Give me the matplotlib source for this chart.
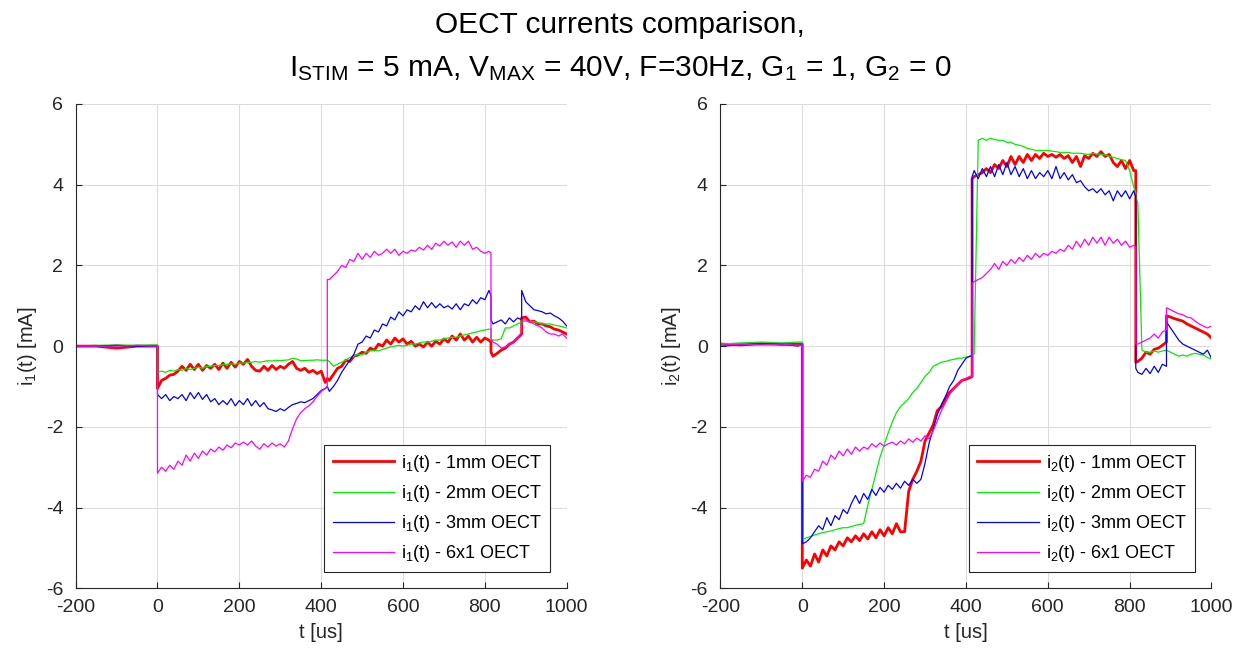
import matplotlib
matplotlib.use('Agg')
import matplotlib.pyplot as plt

plt.rcParams['font.family'] = ['Liberation Sans', 'DejaVu Sans']
plt.rcParams['mathtext.default'] = 'regular'
plt.rcParams['axes.unicode_minus'] = False

# time base [us]: pre-trigger, then 10 us samples with repeated instants at the switching edges
t_pre = [-200, -150, -100, -50, -10, 0]
t_seg2 = list(range(0, 420, 10)) + [415]
t_seg3 = [415] + list(range(420, 820, 10)) + [815]
t_seg4 = [815] + list(range(820, 900, 10))
t_seg5 = [890] + list(range(900, 1010, 10))
t = t_pre + t_seg2 + t_seg3 + t_seg4 + t_seg5

labels = ['1mm OECT', '2mm OECT', '3mm OECT', '6x1 OECT']
colors = ['#ff0000', '#00ee00', '#0000ff', '#ff00ff']
widths = [2.0, 0.9, 0.9, 0.9]

# ---- i1(t) [mA]
i1_1mm = [0.0, 0.0, -0.05, 0.0, 0.0, 0.0,
          -1.05, -0.85, -0.8, -0.72, -0.7, -0.62, -0.5, -0.6, -0.45, -0.58,
          -0.45, -0.6, -0.48, -0.55, -0.45, -0.58, -0.42, -0.55, -0.4, -0.52,
          -0.38, -0.45, -0.33, -0.5, -0.6, -0.62, -0.5, -0.6, -0.48, -0.58,
          -0.5, -0.55, -0.45, -0.38, -0.55, -0.6, -0.55, -0.65, -0.6, -0.68,
          -0.62, -0.9, -0.8,
          -0.8,
          -0.85, -0.7, -0.55, -0.5, -0.35, -0.38, -0.25, -0.22, -0.15, -0.18,
          -0.05, -0.1, 0.05, 0.0, 0.15, 0.05, 0.2, 0.1, 0.18, 0.05,
          0.12, 0.0, 0.05, -0.02, 0.1, 0.0, 0.12, 0.05, 0.18, 0.1,
          0.25, 0.15, 0.3, 0.15, 0.25, 0.1, 0.22, 0.1, 0.2, 0.15,
          0.1,
          -0.15, -0.25, -0.18, -0.1, -0.05, 0.05, 0.1, 0.2, 0.3,
          0.7, 0.72, 0.6, 0.62, 0.55, 0.55, 0.5, 0.48, 0.42, 0.4, 0.35, 0.3]

i1_2mm = [0.0, 0.02, 0.03, 0.02, 0.03, 0.03,
          -0.65, -0.62, -0.65, -0.6, -0.62, -0.58, -0.6, -0.55, -0.58, -0.55,
          -0.52, -0.55, -0.5, -0.5, -0.48, -0.48, -0.46, -0.45, -0.44, -0.45,
          -0.42, -0.42, -0.4, -0.4, -0.38, -0.4, -0.38, -0.36, -0.37, -0.35,
          -0.36, -0.35, -0.34, -0.3, -0.32, -0.36, -0.36, -0.35, -0.35, -0.34,
          -0.35, -0.35, -0.35,
          -0.35,
          -0.38, -0.5, -0.45, -0.4, -0.35, -0.28, -0.25, -0.2, -0.22, -0.15,
          -0.12, -0.1, -0.12, -0.08, -0.05, -0.02, 0.0, 0.02, 0.0, 0.02,
          0.05, 0.05, 0.08, 0.1, 0.1, 0.12, 0.15, 0.15, 0.18, 0.2,
          0.22, 0.22, 0.25, 0.28, 0.3, 0.33, 0.35, 0.38, 0.4, 0.42,
          0.43,
          0.15, 0.15, 0.15, 0.18, 0.45, 0.45, 0.5, 0.55, 0.6,
          0.6, 0.62, 0.6, 0.6, 0.58, 0.55, 0.55, 0.55, 0.52, 0.5, 0.48, 0.45]

i1_3mm = [0.0, 0.0, 0.02, 0.0, 0.0, 0.0,
          -1.2, -1.3, -1.2, -1.35, -1.25, -1.3, -1.2, -1.35, -1.15, -1.3,
          -1.15, -1.32, -1.2, -1.38, -1.3, -1.45, -1.35, -1.45, -1.3, -1.48,
          -1.35, -1.45, -1.3, -1.48, -1.35, -1.5, -1.4, -1.55, -1.58, -1.62,
          -1.55, -1.6, -1.52, -1.45, -1.42, -1.38, -1.4, -1.35, -1.3, -1.2,
          -1.1, -1.05, -1.0,
          -1.0,
          -1.12, -1.0, -0.85, -0.65, -0.5, -0.35, -0.2, 0.05, 0.1, 0.25,
          0.2, 0.4, 0.35, 0.55, 0.5, 0.72, 0.65, 0.85, 0.75, 0.9,
          0.85, 1.0, 0.9, 1.1, 0.95, 1.08, 0.95, 1.05, 0.95, 1.0,
          0.92, 1.05, 0.9, 1.05, 1.0, 1.15, 1.05, 1.2, 1.15, 1.38,
          1.25,
          0.65, 0.55, 0.6, 0.65, 0.55, 0.7, 0.6, 0.7, 0.65,
          1.38, 1.1, 1.0, 0.9, 0.88, 0.85, 0.8, 0.82, 0.75, 0.7, 0.62, 0.5]

i1_6x1 = [0.0, 0.0, 0.0, 0.02, 0.0, 0.0,
          -3.15, -3.0, -3.1, -2.95, -3.05, -2.85, -2.95, -2.7, -2.85, -2.65,
          -2.78, -2.6, -2.7, -2.55, -2.62, -2.5, -2.58, -2.45, -2.52, -2.4,
          -2.45, -2.38, -2.45, -2.35, -2.48, -2.55, -2.42, -2.5, -2.4, -2.48,
          -2.42, -2.5, -2.35, -2.05, -1.8, -1.65, -1.55, -1.48, -1.38, -1.25,
          -1.12, -1.05, -1.0,
          1.65,
          1.65, 1.75, 1.85, 2.0, 1.95, 2.15, 2.1, 2.3, 2.15, 2.3,
          2.2, 2.35, 2.25, 2.3, 2.4, 2.3, 2.4, 2.25, 2.35, 2.3,
          2.38, 2.35, 2.45, 2.38, 2.5, 2.4, 2.55, 2.48, 2.6, 2.5,
          2.58, 2.45, 2.6, 2.5, 2.6, 2.4, 2.45, 2.35, 2.3, 2.35,
          2.3,
          0.2, 0.1, 0.05, -0.05, -0.02, 0.05, 0.1, 0.2, 0.35,
          0.65, 0.65, 0.6, 0.55, 0.5, 0.45, 0.35, 0.3, 0.3, 0.25, 0.3, 0.2]

# ---- i2(t) [mA]
i2_1mm = [0.05, 0.03, 0.06, 0.04, 0.05, 0.05,
          -5.5, -5.3, -5.45, -5.15, -5.35, -5.05, -5.2, -4.95, -5.05, -4.85,
          -4.95, -4.75, -4.85, -4.7, -4.82, -4.65, -4.78, -4.6, -4.75, -4.55,
          -4.7, -4.5, -4.65, -4.4, -4.6, -4.6, -3.6, -3.3, -3.1, -2.85,
          -2.35, -2.15, -1.95, -1.6, -1.5, -1.3, -1.15, -1.05, -0.95, -0.85,
          -0.82, -0.78, -0.75,
          4.15,
          4.2, 4.25, 4.3, 4.4, 4.3, 4.5, 4.4, 4.6, 4.45, 4.7,
          4.5, 4.7, 4.55, 4.75, 4.6, 4.75, 4.65, 4.78, 4.7, 4.75,
          4.68, 4.75, 4.65, 4.72, 4.55, 4.7, 4.45, 4.72, 4.65, 4.78,
          4.7, 4.82, 4.7, 4.75, 4.55, 4.45, 4.6, 4.4, 4.6, 4.35,
          4.35,
          -0.4, -0.38, -0.3, -0.15, -0.2, -0.08, -0.05, 0.02, 0.1,
          0.75, 0.72, 0.68, 0.65, 0.62, 0.55, 0.5, 0.45, 0.4, 0.35, 0.3, 0.2]

i2_2mm = [0.05, 0.08, 0.1, 0.08, 0.1, 0.1,
          -4.8, -4.75, -4.72, -4.68, -4.65, -4.62, -4.6, -4.58, -4.55, -4.52,
          -4.5, -4.5, -4.47, -4.44, -4.42, -4.4, -3.95, -3.55, -3.15, -2.75,
          -2.45, -2.15, -1.88, -1.65, -1.5, -1.4, -1.3, -1.15, -1.05, -0.9,
          -0.75, -0.65, -0.5, -0.45, -0.4, -0.38, -0.35, -0.33, -0.3, -0.3,
          -0.27, -0.25, -0.22,
          -0.22,
          -0.2, 5.1, 5.15, 5.1, 5.15, 5.12, 5.1, 5.1, 5.05, 5.05,
          5.0, 4.98, 4.95, 4.9, 4.88, 4.85, 4.85, 4.85, 4.85, 4.83,
          4.82, 4.8, 4.8, 4.8, 4.78, 4.78, 4.78, 4.76, 4.75, 4.78,
          4.76, 4.75, 4.74, 4.7, 4.68, 4.65, 4.62, 4.6, 4.35, 3.95,
          3.8,
          3.7, 3.55, -0.1, -0.15, -0.15, -0.12, -0.15, -0.12, -0.1,
          -0.1, -0.15, -0.2, -0.25, -0.22, -0.25, -0.2, -0.18, -0.2, -0.22, -0.28, -0.32]

i2_3mm = [0.0, 0.03, 0.05, 0.05, 0.0, 0.05,
          -4.9, -4.85, -4.75, -4.6, -4.45, -4.55, -4.25, -4.45, -4.2, -4.3,
          -4.05, -4.15, -3.9, -3.7, -3.9, -3.65, -3.8, -3.55, -3.7, -3.5,
          -3.62, -3.45, -3.55, -3.4, -3.52, -3.35, -3.45, -3.3, -3.4, -3.3,
          -2.9, -2.4, -2.05, -1.7, -1.45, -1.25, -1.0, -0.85, -0.6, -0.45,
          -0.3, -0.25, -0.25,
          4.2,
          4.35, 4.15, 4.4, 4.2, 4.45, 4.2, 4.5, 4.25, 4.55, 4.25,
          4.45, 4.2, 4.4, 4.15, 4.35, 4.15, 4.3, 4.2, 4.35, 4.15,
          4.45, 4.15, 4.3, 4.12, 4.25, 4.05, 4.1, 3.95, 3.85, 3.9,
          3.8, 3.9, 3.75, 3.85, 3.6, 3.85, 3.7, 3.85, 3.65, 3.85,
          3.7,
          -0.55, -0.65, -0.7, -0.55, -0.68, -0.5, -0.65, -0.45, -0.5,
          0.6, 0.45, 0.3, 0.15, 0.05, 0.0, -0.05, -0.1, -0.15, -0.2, -0.1, -0.3]

i2_6x1 = [0.02, 0.05, 0.03, 0.05, 0.02, 0.03,
          -3.35, -3.2, -3.25, -3.05, -3.1, -2.85, -2.95, -2.7, -2.8, -2.6,
          -2.72, -2.55, -2.68, -2.5, -2.6, -2.5, -2.55, -2.42, -2.5, -2.4,
          -2.48, -2.42, -2.38, -2.45, -2.35, -2.42, -2.3, -2.38, -2.28, -2.35,
          -2.22, -2.3, -2.1, -1.85, -1.6, -1.4, -1.2, -1.05, -0.95, -0.85,
          -0.8, -0.75, -0.75,
          1.55,
          1.6, 1.65, 1.7, 1.8, 1.9, 2.05, 1.9, 2.1, 2.0, 2.15,
          2.05, 2.2, 2.1, 2.25, 2.15, 2.3, 2.2, 2.3, 2.25, 2.35,
          2.3, 2.4, 2.35, 2.5, 2.4, 2.6, 2.45, 2.65, 2.5, 2.7,
          2.55, 2.7, 2.5, 2.7, 2.55, 2.65, 2.5, 2.6, 2.45, 2.5,
          2.45,
          0.05, 0.05, 0.1, 0.15, 0.2, 0.3, 0.2, 0.35, 0.4,
          0.95, 0.9, 0.85, 0.8, 0.78, 0.72, 0.7, 0.62, 0.55, 0.5, 0.45, 0.5]

axis_col = '#262626'
fig = plt.figure(figsize=(12.4, 6.5), dpi=100)
ax1 = fig.add_axes([0.061, 0.095, 0.396, 0.745])
ax2 = fig.add_axes([0.581, 0.095, 0.396, 0.745])

panels = [(ax1, [i1_1mm, i1_2mm, i1_3mm, i1_6x1], '1'),
          (ax2, [i2_1mm, i2_2mm, i2_3mm, i2_6x1], '2')]

for ax, series, k in panels:
    for y, lab, c, lw in zip(series, labels, colors, widths):
        ax.plot(t, y, color=c, lw=lw, label='i$_%s$(t) - %s' % (k, lab))
    ax.set_xlim(-200, 1000)
    ax.set_ylim(-6, 6)
    ax.set_xticks(range(-200, 1001, 200))
    ax.set_yticks(range(-6, 7, 2))
    ax.grid(True, color='#dcdcdc', lw=0.8)
    ax.set_axisbelow(True)
    for s in ['top', 'right']:
        ax.spines[s].set_visible(False)
    for s in ['left', 'bottom']:
        ax.spines[s].set_color(axis_col)
        ax.spines[s].set_linewidth(0.8)
    ax.tick_params(direction='in', length=4, colors=axis_col, labelsize=14)
    ax.tick_params(axis='x', pad=8)
    ax.tick_params(axis='y', pad=9)
    ax.set_xlabel('t [us]', fontsize=14.5, color=axis_col, labelpad=5)
    ax.set_ylabel('i$_%s$(t) [mA]' % k, fontsize=14.5, color=axis_col, labelpad=5)
    leg = ax.legend(loc='lower right', fontsize=13, fancybox=False,
                    framealpha=1, edgecolor=axis_col, handlelength=3.4,
                    handletextpad=0.4, borderaxespad=0.9, labelspacing=0.5,
                    borderpad=0.45)
    leg.get_frame().set_linewidth(0.8)

fig.text(0.5, 0.962, 'OECT currents comparison,', ha='center', va='center',
         fontsize=21.5, color='black')
fig.text(0.5, 0.895, 'I$_{STIM}$ = 5 mA, V$_{MAX}$ = 40V, F=30Hz, G$_1$ = 1, G$_2$ = 0',
         ha='center', va='center', fontsize=21.5, color='black')

fig.savefig('out.png', dpi=100)
